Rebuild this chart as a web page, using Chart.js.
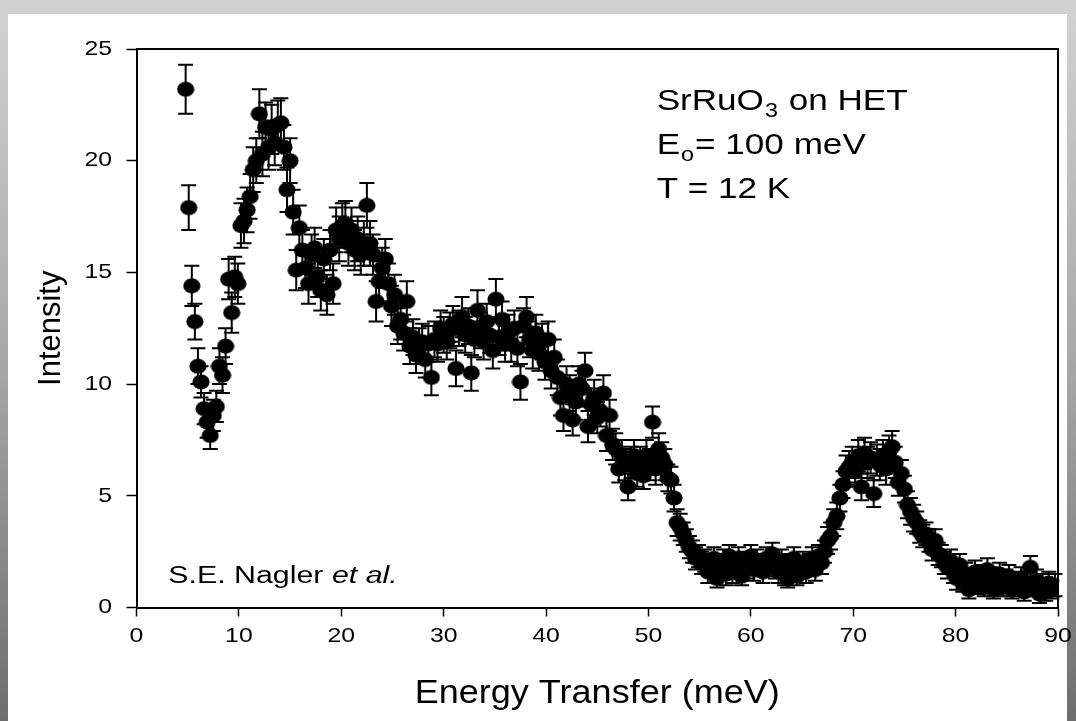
<!DOCTYPE html>
<html>
<head>
<meta charset="utf-8">
<title>SrRuO3 on HET</title>
<script src="https://cdn.jsdelivr.net/npm/chart.js@4.4.1/dist/chart.umd.min.js"></script>
<style>
  html, body { margin: 0; padding: 0; }
  body {
    width: 1076px; height: 721px; overflow: hidden; position: relative;
    background: linear-gradient(to bottom, #d2d2d2 0%, #a8a8a8 50%, #6e6e6e 100%);
  }
  #panel { position: absolute; left: 8px; top: 14px; width: 1059px; height: 707px; background: #fff; }
  #plot { position: absolute; left: 0; top: 0; }
</style>
</head>
<body>
<div id="panel"></div>
<canvas id="plot" width="1076" height="721"></canvas>
<script>
// energy transfer (meV)
var energy = [
  4.8, 5.1, 5.4, 5.7, 6.0, 6.3, 6.6, 6.9, 7.2, 7.5,
  7.8, 8.1, 8.4, 8.7, 9.0, 9.3, 9.6, 9.9, 10.2, 10.5,
  10.8, 11.1, 11.4, 11.7, 12.0, 12.3, 12.6, 12.9, 13.2, 13.5,
  13.8, 14.1, 14.4, 14.7, 15.0, 15.3, 15.6, 15.9, 16.2, 16.5,
  16.8, 17.1, 17.4, 17.7, 18.0, 18.3, 18.6, 18.9, 19.2, 19.5,
  19.8, 20.1, 20.4, 20.7, 21.0, 21.3, 21.6, 21.9, 22.2, 22.5,
  22.8, 23.1, 23.4, 23.7, 24.0, 24.3, 24.6, 24.9, 25.2, 25.5,
  25.8, 26.1, 26.4, 26.7, 27.0, 27.3, 27.6, 27.9, 28.2, 28.5,
  28.8, 29.1, 29.4, 29.7, 30.0, 30.3, 30.6, 30.9, 31.2, 31.5,
  31.8, 32.1, 32.4, 32.7, 33.0, 33.3, 33.6, 33.9, 34.2, 34.5,
  34.8, 35.1, 35.4, 35.7, 36.0, 36.3, 36.6, 36.9, 37.2, 37.5,
  37.8, 38.1, 38.4, 38.7, 39.0, 39.3, 39.6, 39.9, 40.2, 40.5,
  40.8, 41.1, 41.4, 41.7, 42.0, 42.3, 42.6, 42.9, 43.2, 43.5,
  43.8, 44.1, 44.4, 44.7, 45.0, 45.3, 45.6, 45.9, 46.2, 46.5,
  46.8, 47.1, 47.4, 47.7, 48.0, 48.3, 48.6, 48.9, 49.2, 49.5,
  49.8, 50.1, 50.4, 50.7, 51.0, 51.3, 51.6, 51.9, 52.2, 52.5,
  52.8, 53.1, 53.4, 53.7, 54.0, 54.3, 54.6, 54.9, 55.2, 55.5,
  55.8, 56.1, 56.4, 56.7, 57.0, 57.3, 57.6, 57.9, 58.2, 58.5,
  58.8, 59.1, 59.4, 59.7, 60.0, 60.3, 60.6, 60.9, 61.2, 61.5,
  61.8, 62.1, 62.4, 62.7, 63.0, 63.3, 63.6, 63.9, 64.2, 64.5,
  64.8, 65.1, 65.4, 65.7, 66.0, 66.3, 66.6, 66.9, 67.2, 67.5,
  67.8, 68.1, 68.4, 68.7, 69.0, 69.3, 69.6, 69.9, 70.2, 70.5,
  70.8, 71.1, 71.4, 71.7, 72.0, 72.3, 72.6, 72.9, 73.2, 73.5,
  73.8, 74.1, 74.4, 74.7, 75.0, 75.3, 75.6, 75.9, 76.2, 76.5,
  76.8, 77.1, 77.4, 77.7, 78.0, 78.3, 78.6, 78.9, 79.2, 79.5,
  79.8, 80.1, 80.4, 80.7, 81.0, 81.3, 81.6, 81.9, 82.2, 82.5,
  82.8, 83.1, 83.4, 83.7, 84.0, 84.3, 84.6, 84.9, 85.2, 85.5,
  85.8, 86.1, 86.4, 86.7, 87.0, 87.3, 87.6, 87.9, 88.2, 88.5,
  88.8, 89.1, 89.4, 89.7
];

// measured intensity
var intensity = [
  23.2, 17.9, 14.4, 12.8, 10.8, 10.1, 8.9, 8.3, 7.7, 8.6,
  9.0, 10.8, 10.4, 11.7, 14.7, 13.2, 14.8, 14.5, 17.1, 17.3,
  17.8, 18.4, 19.6, 20.0, 22.1, 20.3, 21.5, 20.6, 21.4, 20.8,
  21.6, 21.7, 20.6, 18.7, 20.0, 17.7, 15.1, 17.0, 16.0, 15.2,
  14.5, 15.8, 16.1, 14.8, 14.2, 15.6, 14.0, 16.0, 14.5, 16.9,
  16.5, 17.1, 17.2, 16.3, 16.9, 16.0, 16.5, 15.8, 16.3, 18.0,
  16.3, 15.8, 13.7, 14.6, 15.2, 15.6, 14.5, 13.5, 14.0, 12.6,
  12.9, 12.3, 13.7, 11.7, 12.1, 11.3, 11.7, 11.9, 11.1, 11.8,
  10.3, 12.0, 11.8, 12.5, 12.2, 11.9, 12.4, 12.7, 10.7, 12.5,
  13.0, 12.2, 12.6, 10.5, 12.0, 13.3, 12.4, 11.9, 12.8, 12.2,
  11.5, 13.8, 12.1, 12.9, 11.8, 12.3, 11.8, 12.5, 11.6, 10.1,
  12.6, 13.0, 12.0, 11.5, 12.3, 11.4, 11.9, 11.0, 12.0, 10.6,
  11.2, 10.3, 9.4, 8.6, 10.0, 9.6, 8.4, 9.2, 10.0, 9.8,
  10.6, 8.1, 9.1, 9.4, 8.5, 8.8, 9.6, 7.7, 8.6, 7.3,
  7.1, 6.2, 6.8, 6.4, 5.4, 6.5, 6.8, 6.0, 6.5, 5.9,
  6.8, 6.4, 8.3, 6.2, 7.1, 6.7, 6.4, 5.8, 5.7, 4.9,
  3.8, 3.6, 3.3, 3.0, 2.7, 2.5, 2.2, 2.3, 2.0, 2.1,
  1.6, 1.9, 2.2, 1.3, 1.9, 2.1, 1.5, 2.3, 1.6, 1.9,
  2.2, 1.4, 2.0, 1.8, 2.3, 1.7, 2.1, 1.9, 1.6, 2.2,
  1.9, 2.4, 1.8, 1.6, 2.1, 1.5, 1.3, 1.9, 2.2, 1.4,
  1.8, 2.0, 1.6, 1.9, 2.2, 1.7, 2.3, 2.0, 2.5, 3.0,
  3.2, 3.8, 4.1, 4.9, 5.5, 6.1, 6.3, 6.5, 6.1, 6.8,
  5.4, 6.9, 6.5, 6.7, 5.1, 6.6, 6.4, 6.8, 6.2, 7.0,
  7.2, 6.5, 5.6, 6.0, 5.3, 4.6, 4.3, 4.0, 3.8, 3.4,
  3.2, 3.3, 3.0, 2.6, 3.0, 2.4, 2.3, 2.0, 1.8, 2.1,
  1.6, 1.3, 1.9, 1.1, 1.5, 0.8, 1.2, 1.6, 1.0, 1.4,
  0.9, 1.7, 1.3, 0.8, 1.1, 1.5, 0.9, 1.2, 1.4, 0.8,
  1.1, 0.9, 1.3, 0.7, 1.1, 1.8, 0.9, 1.2, 0.6, 1.0,
  0.7, 1.1, 0.8, 1.0
];

// one-sigma uncertainty on each point
var errors = [
  1.1, 1.0, 0.9, 0.8, 0.8, 0.7, 0.7, 0.7, 0.6, 0.7,
  0.7, 0.8, 0.8, 0.8, 0.9, 0.9, 0.9, 0.9, 1.0, 1.0,
  1.0, 1.0, 1.0, 1.0, 1.1, 1.0, 1.1, 1.0, 1.1, 1.0,
  1.1, 1.1, 1.0, 1.0, 1.0, 1.0, 0.9, 1.0, 0.9, 0.9,
  0.9, 0.9, 0.9, 0.9, 0.9, 0.9, 0.9, 0.9, 0.9, 1.0,
  1.0, 1.0, 1.0, 1.0, 1.0, 0.9, 1.0, 0.9, 1.0, 1.0,
  1.0, 0.9, 0.9, 0.9, 0.9, 0.9, 0.9, 0.9, 0.9, 0.8,
  0.9, 0.8, 0.9, 0.8, 0.8, 0.8, 0.8, 0.8, 0.8, 0.8,
  0.8, 0.8, 0.8, 0.8, 0.8, 0.8, 0.8, 0.8, 0.8, 0.8,
  0.9, 0.8, 0.8, 0.8, 0.8, 0.9, 0.8, 0.8, 0.8, 0.8,
  0.8, 0.9, 0.8, 0.8, 0.8, 0.8, 0.8, 0.8, 0.8, 0.8,
  0.8, 0.9, 0.8, 0.8, 0.8, 0.8, 0.8, 0.8, 0.8, 0.8,
  0.8, 0.8, 0.8, 0.7, 0.8, 0.8, 0.7, 0.8, 0.8, 0.8,
  0.8, 0.7, 0.7, 0.8, 0.7, 0.7, 0.8, 0.7, 0.7, 0.7,
  0.7, 0.6, 0.7, 0.7, 0.6, 0.7, 0.7, 0.6, 0.7, 0.6,
  0.7, 0.7, 0.7, 0.7, 0.7, 0.7, 0.7, 0.6, 0.6, 0.6,
  0.6, 0.6, 0.5, 0.5, 0.5, 0.5, 0.5, 0.5, 0.5, 0.5,
  0.5, 0.5, 0.5, 0.4, 0.5, 0.5, 0.5, 0.5, 0.5, 0.5,
  0.5, 0.4, 0.5, 0.5, 0.5, 0.5, 0.5, 0.5, 0.5, 0.5,
  0.5, 0.5, 0.5, 0.5, 0.5, 0.5, 0.4, 0.5, 0.5, 0.4,
  0.5, 0.5, 0.5, 0.5, 0.5, 0.5, 0.5, 0.5, 0.5, 0.6,
  0.6, 0.6, 0.6, 0.6, 0.6, 0.7, 0.7, 0.7, 0.6, 0.7,
  0.6, 0.7, 0.7, 0.7, 0.6, 0.7, 0.7, 0.7, 0.7, 0.7,
  0.7, 0.7, 0.6, 0.6, 0.6, 0.6, 0.6, 0.6, 0.5, 0.5,
  0.5, 0.5, 0.5, 0.5, 0.5, 0.5, 0.5, 0.5, 0.5, 0.5,
  0.5, 0.5, 0.5, 0.4, 0.5, 0.4, 0.5, 0.5, 0.4, 0.5,
  0.4, 0.5, 0.5, 0.4, 0.5, 0.5, 0.4, 0.5, 0.5, 0.4,
  0.5, 0.4, 0.5, 0.4, 0.5, 0.5, 0.4, 0.5, 0.4, 0.5,
  0.4, 0.5, 0.4, 0.5
];

var xTicks = [0, 10, 20, 30, 40, 50, 60, 70, 80, 90];
var yTicks = [0, 5, 10, 15, 20, 25];

var FONT = '"Liberation Sans", Arial, Helvetica, sans-serif';

// text a little wider than the font draws it
function wideText(ctx, str, x, y, font, align, sx) {
  ctx.save();
  ctx.font = font;
  var w = ctx.measureText(str).width * sx;
  var left = align === 'center' ? x - w / 2 : align === 'right' ? x - w : x;
  ctx.translate(left, y);
  ctx.scale(sx, 1);
  ctx.textAlign = 'left';
  ctx.fillText(str, 0, 0);
  ctx.restore();
  return w;
}

// filled marker, slightly wider than tall
var marker = document.createElement('canvas');
marker.width = 18; marker.height = 16;
(function () {
  var m = marker.getContext('2d');
  m.fillStyle = '#000';
  m.beginPath();
  m.ellipse(9, 8, 8.6, 7.6, 0, 0, Math.PI * 2);
  m.fill();
})();

// vertical error bars with caps, drawn under the markers
var errorBars = {
  id: 'errorBars',
  beforeDatasetsDraw: function (chart) {
    var ctx = chart.ctx, xs = chart.scales.x, ys = chart.scales.y;
    ctx.save();
    ctx.strokeStyle = '#000';
    ctx.lineWidth = 2;
    for (var i = 0; i < energy.length; i++) {
      var px = xs.getPixelForValue(energy[i]);
      var top = ys.getPixelForValue(intensity[i] + errors[i]);
      var bot = ys.getPixelForValue(intensity[i] - errors[i]);
      ctx.beginPath();
      ctx.moveTo(px, top); ctx.lineTo(px, bot);
      ctx.moveTo(px - 7.5, top); ctx.lineTo(px + 7.5, top);
      ctx.moveTo(px - 7.5, bot); ctx.lineTo(px + 7.5, bot);
      ctx.stroke();
    }
    ctx.restore();
  }
};

// closes the plot box, writes tick labels, titles and notes
var decorations = {
  id: 'decorations',
  afterDraw: function (chart) {
    var ctx = chart.ctx, a = chart.chartArea;
    var xs = chart.scales.x, ys = chart.scales.y;
    ctx.save();
    ctx.strokeStyle = '#000';
    ctx.lineWidth = 2;
    ctx.beginPath();
    ctx.moveTo(a.left, a.top); ctx.lineTo(a.right, a.top); ctx.lineTo(a.right, a.bottom);
    ctx.stroke();

    ctx.fillStyle = '#000';
    ctx.textBaseline = 'middle';
    var tickFont = '21px ' + FONT;
    xTicks.forEach(function (v) {
      wideText(ctx, String(v), xs.getPixelForValue(v), 636, tickFont, 'center', 1.18);
    });
    yTicks.forEach(function (v) {
      wideText(ctx, String(v), 112, ys.getPixelForValue(v), tickFont, 'right', 1.18);
    });

    ctx.textBaseline = 'alphabetic';
    // axis titles
    wideText(ctx, 'Energy Transfer (meV)', (a.left + a.right) / 2, 703, '34px ' + FONT, 'center', 1.06);
    ctx.save();
    ctx.translate(60, (a.top + a.bottom) / 2);
    ctx.rotate(-Math.PI / 2);
    ctx.font = '31px ' + FONT;
    ctx.textAlign = 'center';
    ctx.fillText('Intensity', 0, 0);
    ctx.restore();

    // sample notes, top right
    var sx = 1.17;
    var x0 = xs.getPixelForValue(50.8);
    var big = '30px ' + FONT, small = '20px ' + FONT;
    var y1 = ys.getPixelForValue(22.27);
    var x = x0;
    x += wideText(ctx, 'SrRuO', x, y1, big, 'left', sx) + 1;
    x += wideText(ctx, '3', x, y1 + 7, small, 'left', sx) + 1;
    wideText(ctx, ' on HET', x, y1, big, 'left', sx);

    var y2 = ys.getPixelForValue(20.3);
    x = x0;
    x += wideText(ctx, 'E', x, y2, big, 'left', sx) + 1;
    x += wideText(ctx, 'o', x, y2 + 7, small, 'left', sx) + 1;
    wideText(ctx, '= 100 meV', x, y2, big, 'left', sx);

    wideText(ctx, 'T = 12 K', x0, ys.getPixelForValue(18.33), big, 'left', sx);

    // credit, bottom left
    var cx = xs.getPixelForValue(3.1), cy = ys.getPixelForValue(1.1);
    cx += wideText(ctx, 'S.E. Nagler ', cx, cy, '23px ' + FONT, 'left', 1.32);
    wideText(ctx, 'et al.', cx, cy, 'italic 23px ' + FONT, 'left', 1.32);
    ctx.restore();
  }
};

var points = energy.map(function (e, i) { return { x: e, y: intensity[i] }; });

var ctx = document.getElementById('plot').getContext('2d');
var chart = new Chart(ctx, {
  type: 'scatter',
  data: {
    datasets: [{
      data: points,
      backgroundColor: '#000',
      borderColor: '#000',
      pointStyle: marker,
      pointRadius: 8,
      pointHoverRadius: 8
    }]
  },
  options: {
    responsive: false,
    animation: false,
    events: [],
    layout: { padding: { top: 49, right: 18, left: 0, bottom: 0 } },
    plugins: { legend: { display: false }, tooltip: { enabled: false } },
    scales: {
      x: {
        type: 'linear', min: 0, max: 90,
        afterBuildTicks: function (s) { s.ticks = xTicks.map(function (v) { return { value: v }; }); },
        afterFit: function (s) { s.height = 113.5; },
        ticks: { display: false },
        grid: { drawOnChartArea: false, drawTicks: true, tickLength: 9, tickColor: '#000', tickWidth: 1.5 },
        border: { color: '#000', width: 2 }
      },
      y: {
        min: 0, max: 25,
        afterBuildTicks: function (s) { s.ticks = yTicks.map(function (v) { return { value: v }; }); },
        afterFit: function (s) { s.width = 136.5; },
        ticks: { display: false },
        grid: { drawOnChartArea: false, drawTicks: true, tickLength: 10, tickColor: '#000', tickWidth: 1.5 },
        border: { color: '#000', width: 2 }
      }
    }
  },
  plugins: [errorBars, decorations]
});
</script>
</body>
</html>
